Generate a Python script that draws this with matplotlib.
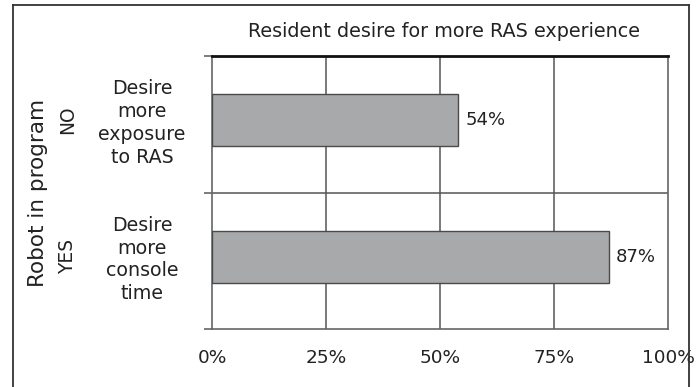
import matplotlib
matplotlib.use("Agg")
from matplotlib import pyplot as plt
from matplotlib.lines import Line2D
import matplotlib.transforms as mtransforms

plt.rcParams['font.family'] = ['DejaVu Sans']

# data
groups = ["YES", "NO"]
categories = ["Desire\nmore\nconsole\ntime", "Desire\nmore\nexposure\nto RAS"]
values = [87, 54]
xticks = [0, 25, 50, 75, 100]
xticklabels = ["0%", "25%", "50%", "75%", "100%"]
title = "Resident desire for more RAS experience"
ylabel = "Robot in program"

W, H = 699, 387
fig = plt.figure(figsize=(W / 100, H / 100), dpi=100)
ax = fig.add_axes([212 / W, 1 - 329 / H, 456 / W, 273 / H])

ypos = [0.53, 1.53]
ax.barh(ypos, values, height=0.38, color="#a8a9ab", edgecolor="#4a4a4a",
        linewidth=1.0, zorder=3)
for y, v in zip(ypos, values):
    ax.text(v + 1.5, y, f"{v}%", va="center", ha="left", fontsize=13,
            color="#222222")

ax.set_xlim(0, 100)
ax.set_ylim(0, 2)
ax.set_xticks(xticks)
ax.set_xticklabels(xticklabels, fontsize=13.3, color="#222222")
ax.tick_params(axis="x", length=0, pad=14.5)
ax.set_yticks([0, 1, 2])
ax.set_yticklabels([])
ax.tick_params(axis="y", length=5.5, width=1.2, color="#666666")

for x in xticks[1:-1]:
    ax.axvline(x, color="#555555", lw=1.1, zorder=1)
ax.axhline(1, color="#555555", lw=1.1, zorder=1)

for s in ["left", "right", "bottom"]:
    ax.spines[s].set_color("#666666")
    ax.spines[s].set_linewidth(1.2)
ax.spines["top"].set_color("#111111")
ax.spines["top"].set_linewidth(2.0)

trans = mtransforms.blended_transform_factory(ax.transAxes, ax.transData)
for y, cat, g in zip(ypos, categories, groups):
    ax.text(-0.1535, y - 0.02, cat, transform=trans, ha="center", va="center",
            fontsize=13.7, linespacing=1.25, color="#222222")
    ax.text(-0.316, y, g, transform=trans, ha="center", va="center",
            rotation=90, fontsize=13.4, color="#222222")

fig.text(38 / W, 1 - 192.5 / H, ylabel, rotation=90, ha="center",
         va="center", fontsize=15.5, color="#222222")
fig.text(444 / W, 1 - 37.3 / H, title, ha="center", va="baseline",
         fontsize=13.8, color="#222222")

# outer frame (no bottom edge)
fc = "#333333"
top = 1 - 5 / H
fig.add_artist(Line2D([13 / W, 13 / W], [0, top], color=fc, lw=1.3,
                      transform=fig.transFigure))
fig.add_artist(Line2D([13 / W, 689 / W], [top, top], color=fc, lw=1.3,
                      transform=fig.transFigure))
fig.add_artist(Line2D([689 / W, 689 / W], [0, top], color=fc, lw=1.3,
                      transform=fig.transFigure))

fig.savefig("out.png", dpi=100)
